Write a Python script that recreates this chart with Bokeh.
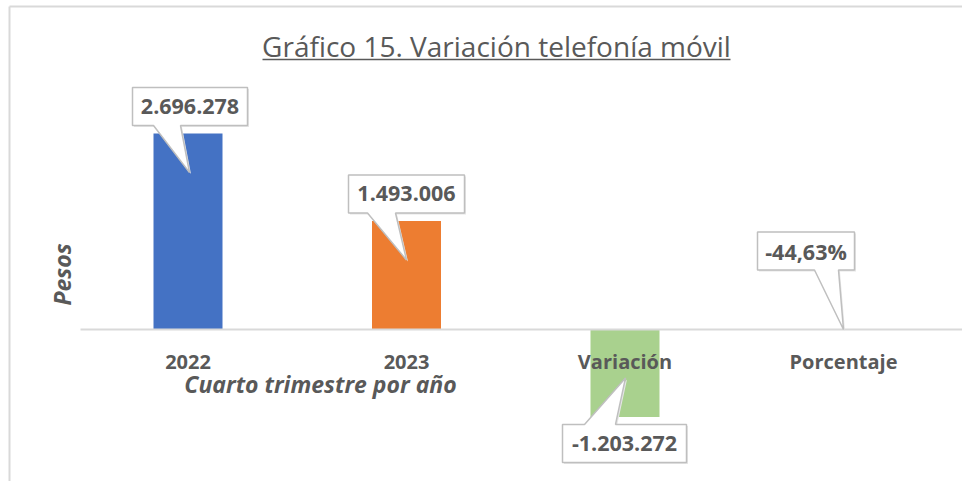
import numpy as np
from bokeh.plotting import figure
from bokeh.models import Range1d, Label
from bokeh.core.properties import value
from bokeh.embed import file_html
from bokeh.resources import INLINE

# ---------------- data ----------------
CATEGORIES = ["2022", "2023", "Variación", "Porcentaje"]
VALUES = [2696278, 1493006, -1203272, -0.4463]
IS_PERCENT = [False, False, False, True]
BAR_COLORS = ["#4472C4", "#ED7D31", "#A9D18E", "#A5A5A5"]
TITLE = "Gráfico 15. Variación telefonía móvil"
X_TITLE = "Cuarto trimestre por año"
Y_TITLE = "Pesos"

# ---------------- layout / style ----------------
W, H = 962, 481
CAT0_X = 187.5          # canvas px of first category centre
CAT_STEP = 218.5        # px between categories
BASE_Y = 329            # canvas px (from top) of zero line
U = 13757.0             # value units per px
BAR_W_PX = 69
TXT = "#595959"
FONT = "Open Sans"

# callout styling (pixels)
TIP_INSET = 39
TIP_DX = [1.5, 0, 0.5, 0]
BOX_DX = [2, 0, -0.5, -37.5]
BOX_DY = [66, 66, -65.5, 78.5]
BOX_W = [115, 116, 124, 97]
BOX_H = 38
PTR_B1 = [-36.5, -39, -40, 8.5]
PTR_B2 = [-9.5, -11, -9, 32.5]


def fmt(v, pct):
    if pct:
        return f"{v * 100:.2f}".replace(".", ",") + "%"
    s = f"{abs(v):,.0f}".replace(",", ".")
    return ("-" if v < 0 else "") + s


def xd(i, dx_px):
    return i + dx_px / CAT_STEP


def yd(up_px):
    return up_px * U


p = figure(width=W, height=H, output_backend="svg", toolbar_location=None,
           x_range=Range1d(-CAT0_X / CAT_STEP, (W - CAT0_X) / CAT_STEP),
           y_range=Range1d(-(H - BASE_Y) * U, BASE_Y * U),
           min_border=0, min_border_left=0, min_border_right=0,
           min_border_top=0, min_border_bottom=0)
p.axis.visible = False
p.xgrid.visible = False
p.ygrid.visible = False
p.outline_line_color = None
p.background_fill_color = "white"
p.border_fill_color = "white"

idx = list(range(len(CATEGORIES)))

# chart-area border (left, top)
x_left = -CAT0_X / CAT_STEP + 9 / CAT_STEP
x_right = (W - CAT0_X) / CAT_STEP
top_up = BASE_Y - 6
p.segment(x0=[x_left, x_left], y0=[yd(top_up), yd(top_up)],
          x1=[x_left, x_right], y1=[yd(-(H - BASE_Y)), yd(top_up)],
          line_color="#D9D9D9", line_width=2)

# bars
p.vbar(x=idx, top=VALUES, bottom=0, width=BAR_W_PX / CAT_STEP,
       fill_color=BAR_COLORS, line_color=None)

# zero line
p.segment(x0=[-CAT0_X / CAT_STEP + 80 / CAT_STEP], y0=[0],
          x1=[x_right], y1=[0], line_color="#D9D9D9", line_width=2)

# category labels
p.text(x=idx, y=[yd(-32)] * len(idx), text=CATEGORIES,
       text_align="center", text_baseline="middle",
       text_font=value(FONT), text_font_style="bold",
       text_font_size="20px", text_color=TXT)

# callouts
xs, ys, sxs, sys_, cx, cy, labels = [], [], [], [], [], [], []
for i, v in enumerate(VALUES):
    sign = 1 if v >= 0 else -1
    bar_px = abs(v) / U
    tip_up = sign * max(bar_px - TIP_INSET, 0)
    tip_x = TIP_DX[i]
    bx = BOX_DX[i]
    by = tip_up + BOX_DY[i]
    L, R = bx - BOX_W[i] / 2, bx + BOX_W[i] / 2
    T, B = by + BOX_H / 2, by - BOX_H / 2
    b1, b2 = bx + PTR_B1[i], bx + PTR_B2[i]
    if BOX_DY[i] > 0:
        pts = [(L, T), (R, T), (R, B), (b2, B), (tip_x, tip_up), (b1, B), (L, B)]
    else:
        pts = [(L, T), (b1, T), (tip_x, tip_up), (b2, T), (R, T), (R, B), (L, B)]
    xs.append([xd(i, a) for a, _ in pts])
    ys.append([yd(b) for _, b in pts])
    sxs.append([xd(i, a + 1.5) for a, _ in pts])
    sys_.append([yd(b - 1.5) for _, b in pts])
    cx.append(xd(i, bx))
    cy.append(yd(by))
    labels.append(fmt(v, IS_PERCENT[i]))

p.patches(xs=sxs, ys=sys_, fill_color="#E6E6E6", line_color=None)
p.patches(xs=xs, ys=ys, fill_color="white", line_color="#BFBFBF", line_width=1.5)
p.text(x=cx, y=cy, text=labels, text_align="center", text_baseline="middle",
       text_font=value(FONT), text_font_style="bold", text_font_size="21.5px",
       text_color=TXT)

# axis titles
p.add_layout(Label(x=xd(0, 132.5), y=yd(-54), text=X_TITLE,
                   text_align="center", text_baseline="middle",
                   text_font=FONT, text_font_style="bold italic",
                   text_font_size="23px", text_color=TXT))
p.add_layout(Label(x=xd(0, -126.5), y=yd(55), text=Y_TITLE, angle=np.pi / 2,
                   text_align="center", text_baseline="middle",
                   text_font=FONT, text_font_style="bold italic",
                   text_font_size="23px", text_color=TXT))

# chart title with underline
p.add_layout(Label(x=xd(0, 308.5), y=yd(284), text=TITLE,
                   text_align="center", text_baseline="middle",
                   text_font=FONT, text_font_size="28px", text_color=TXT))
p.segment(x0=[xd(0, 74.5)], y0=[yd(270)], x1=[xd(0, 542.5)], y1=[yd(270)],
          line_color=TXT, line_width=1.5)

open("out.html", "w").write(file_html(p, INLINE))
